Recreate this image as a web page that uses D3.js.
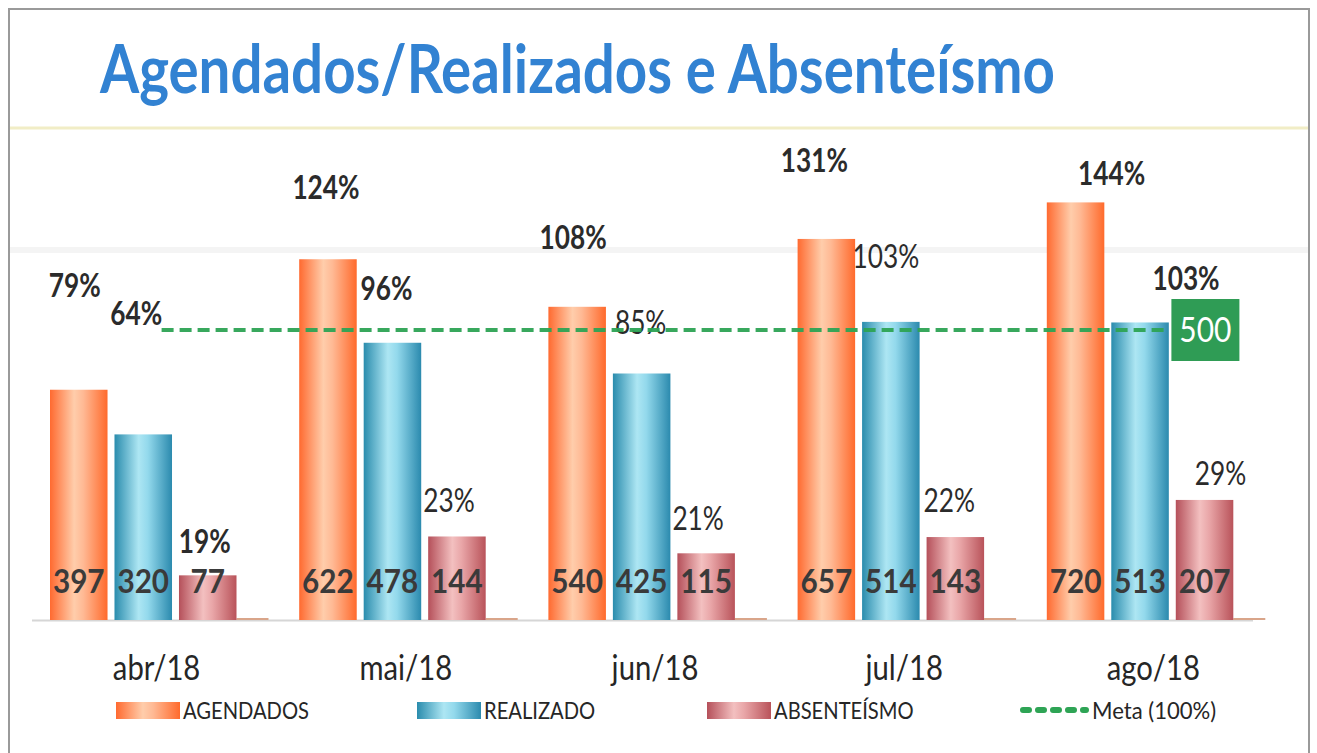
<!DOCTYPE html>
<html>
<head>
<meta charset="utf-8">
<script src="https://cdn.jsdelivr.net/npm/d3@7"></script>
<style>
  body { margin: 0; background: #fff; }
  svg { display: block; }
</style>
</head>
<body>
<div class="container"></div>
<script>
const months = ['abr/18', 'mai/18', 'jun/18', 'jul/18', 'ago/18']
const agendados = [397, 622, 540, 657, 720]
const realizado = [320, 478, 425, 514, 513]
const absenteismo = [77, 144, 115, 143, 207]
const pctAgendados = ['79%', '124%', '108%', '131%', '144%']
const pctRealizado = ['64%', '96%', '85%', '103%', '103%']
const pctAbsenteismo = ['19%', '23%', '21%', '22%', '29%']
const meta = 500
const seriesNames = ['AGENDADOS', 'REALIZADO', 'ABSENTEÍSMO']

const W = 1317
const H = 753
const FONT = 'Lato, "Open Sans", sans-serif'

// label nudges (px) relative to bar centre / bar top, hand placed like the original
const NUDGE = {
  AGENDADOS:   { dx: [-4, -2, -4, -12, 36], dy: [-93, -60, -58, -67, -17], bold: [1, 1, 1, 1, 1] },
  REALIZADO:   { dx: [-7, -6, -1, -5, 46],  dy: [-109, -43, -40, -54, -32], bold: [1, 1, 0, 0, 1] },
  'ABSENTEÍSMO': { dx: [-3, -8, -8, -6, 16], dy: [-22, -24, -23, -25, -15], bold: [1, 0, 0, 0, 0] },
}

const svg = d3.select('.container').append('svg')
  .attr('width', W).attr('height', H)

// squeeze text horizontally to mimic the narrow office font
function condense(sel, k) {
  sel.each(function() {
    const w = this.getComputedTextLength()
    d3.select(this).attr('textLength', w * k).attr('lengthAdjust', 'spacingAndGlyphs')
  })
}

// gradients
const defs = svg.append('defs')
const grads = {
  AGENDADOS: [['0%', '#ff6a30'], ['42%', '#ffcdab'], ['58%', '#ffb994'], ['100%', '#ff6a2c']],
  REALIZADO: [['0%', '#2a8cad'], ['42%', '#ade6f3'], ['58%', '#93d9ec'], ['100%', '#2b8aae']],
  'ABSENTEÍSMO': [['0%', '#b5505a'], ['42%', '#f3c0c0'], ['58%', '#e9a6a8'], ['100%', '#b9535a']],
}
seriesNames.forEach((s, i) => {
  const g = defs.append('linearGradient').attr('id', 'g' + i)
    .attr('x1', '0%').attr('x2', '100%').attr('y1', '0%').attr('y2', '0%')
  grads[s].forEach(([o, c]) => g.append('stop').attr('offset', o).attr('stop-color', c))
})

// frame
svg.append('path')
  .attr('d', `M9,${H} V9 H1309 V${H}`)
  .attr('fill', 'none').attr('stroke', '#9a9a9a').attr('stroke-width', 2)
svg.append('line').attr('x1', 10).attr('x2', 1308).attr('y1', 128).attr('y2', 128)
  .attr('stroke', '#f1edc6').attr('stroke-width', 3)
svg.append('line').attr('x1', 10).attr('x2', 1308).attr('y1', 250).attr('y2', 250)
  .attr('stroke', '#f4f4f4').attr('stroke-width', 6)

// title
svg.append('text')
  .text('Agendados/Realizados e Absenteísmo')
  .attr('x', 100).attr('y', 93)
  .attr('textLength', 955).attr('lengthAdjust', 'spacingAndGlyphs')
  .attr('font-family', FONT)
  .attr('font-weight', 'bold').attr('font-size', 66)
  .attr('fill', '#3282d2')

// scales
const x0 = d3.scaleBand().domain(months).range([32, 1278])
const x1 = d3.scaleBand().domain(seriesNames).range([18, 204.5]).paddingInner(0.108)
const y = d3.scaleLinear().domain([0, 1000]).range([620, 40])

const seriesData = { AGENDADOS: agendados, REALIZADO: realizado, 'ABSENTEÍSMO': absenteismo }
const seriesPct = { AGENDADOS: pctAgendados, REALIZADO: pctRealizado, 'ABSENTEÍSMO': pctAbsenteismo }

// baseline
svg.append('line')
  .attr('x1', x0.range()[0]).attr('x2', x0.range()[1] - 25)
  .attr('y1', y(0) + 0.5).attr('y2', y(0) + 0.5)
  .attr('stroke', '#d6d6d6').attr('stroke-width', 2)

// small stubs after each group
svg.append('g').selectAll('line')
  .data(months).join('line')
  .attr('x1', d => x0(d) + x1.range()[1]).attr('x2', d => x0(d) + x1.range()[1] + 32)
  .attr('y1', y(0) - 1).attr('y2', y(0) - 1)
  .attr('stroke', '#d9a58a').attr('stroke-width', 2)

// bars
seriesNames.forEach((s, si) => {
  const vals = seriesData[s]
  const g = svg.append('g').attr('class', 'series-' + si)
  g.selectAll('rect')
    .data(vals).join('rect')
    .attr('x', (d, i) => x0(months[i]) + x1(s))
    .attr('width', x1.bandwidth())
    .attr('y', d => y(d))
    .attr('height', d => y(0) - y(d))
    .attr('fill', `url(#g${si})`)

  // value inside bar
  g.selectAll('text.val')
    .data(vals).join('text')
    .attr('class', 'val')
    .text(d => d)
    .attr('x', (d, i) => x0(months[i]) + x1(s) + x1.bandwidth() / 2)
    .attr('y', y(0) - 27)
    .attr('text-anchor', 'middle')
    .attr('font-family', FONT).attr('font-weight', 'bold').attr('font-size', 33)
    .attr('fill', '#3a3a3a')
    .call(condense, 0.9)

  // percentage labels
  const nd = NUDGE[s]
  g.selectAll('text.pct')
    .data(seriesPct[s]).join('text')
    .attr('class', 'pct')
    .text(d => d)
    .attr('x', (d, i) => x0(months[i]) + x1(s) + x1.bandwidth() / 2 + nd.dx[i])
    .attr('y', (d, i) => y(vals[i]) + nd.dy[i])
    .attr('text-anchor', 'middle')
    .attr('font-family', FONT)
    .attr('font-weight', (d, i) => nd.bold[i] ? 'bold' : 'normal')
    .attr('font-size', 32)
    .attr('fill', '#2b2b2b')
    .call(condense, 0.82)
})

// meta line
const metaX1 = x0(months[0]) + x0.bandwidth() / 2 + 5
const metaX2 = x0(months[months.length - 1]) + x0.bandwidth() / 2 + 16
svg.append('line')
  .attr('x1', metaX1).attr('x2', metaX2)
  .attr('y1', y(meta)).attr('y2', y(meta))
  .attr('stroke', '#2ea455').attr('stroke-width', 4)
  .attr('stroke-dasharray', '12 6')
  .attr('opacity', 0.95)

// meta value box
const box = svg.append('g').attr('transform', `translate(${metaX2 + 2}, ${y(meta)})`)
box.append('rect').attr('x', 0).attr('y', -31).attr('width', 68).attr('height', 62)
  .attr('fill', '#2f9c55')
box.append('text').text(meta)
  .attr('x', 34).attr('y', 12).attr('text-anchor', 'middle')
  .attr('font-family', FONT).attr('font-size', 34).attr('fill', '#fff')
  .call(condense, 0.88)

// month labels
svg.append('g').selectAll('text')
  .data(months).join('text')
  .text(d => d)
  .attr('x', d => x0(d) + x0.bandwidth() / 2)
  .attr('y', 680)
  .attr('text-anchor', 'middle')
  .attr('font-family', FONT).attr('font-size', 34)
  .attr('fill', '#262626')
  .call(condense, 0.86)

// legend
const legendItems = [
  { label: 'AGENDADOS', x: 116, type: 'rect', idx: 0 },
  { label: 'REALIZADO', x: 417, type: 'rect', idx: 1 },
  { label: 'ABSENTEÍSMO', x: 707, type: 'rect', idx: 2 },
  { label: 'Meta (100%)', x: 1020, type: 'line' },
]
const legend = svg.append('g').attr('transform', 'translate(0, 710)')
legendItems.forEach(it => {
  if (it.type === 'rect') {
    legend.append('rect').attr('x', it.x).attr('y', -8).attr('width', 64).attr('height', 17)
      .attr('fill', `url(#g${it.idx})`)
  } else {
    legend.append('line').attr('x1', it.x + 3).attr('x2', it.x + 66).attr('y1', 0).attr('y2', 0)
      .attr('stroke', '#2ea455').attr('stroke-width', 6).attr('stroke-dasharray', '6 9')
      .attr('stroke-linecap', 'round')
  }
  legend.append('text').text(it.label)
    .attr('x', it.x + (it.type === 'rect' ? 67 : 72)).attr('y', 9)
    .attr('font-family', FONT).attr('font-size', 24).attr('fill', '#262626')
    .call(condense, it.type === 'rect' ? 0.84 : 0.92)
})
</script>
</body>
</html>
